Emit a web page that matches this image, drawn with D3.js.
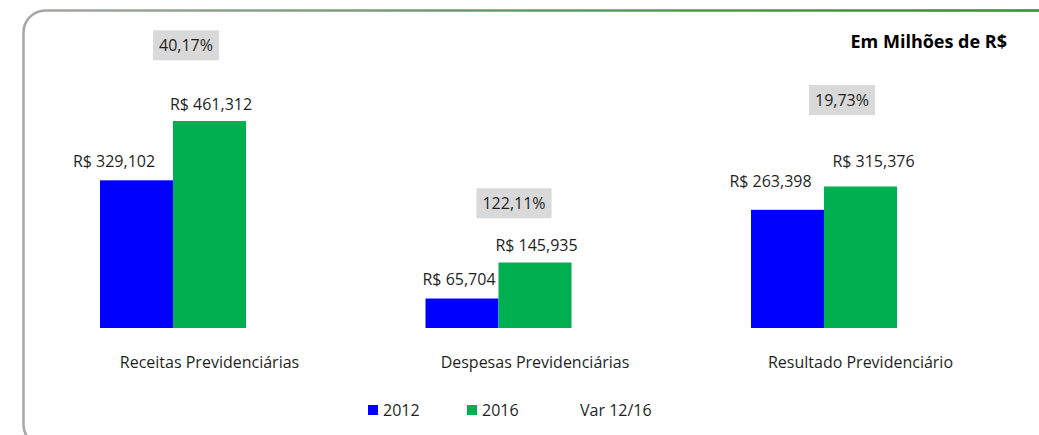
<!DOCTYPE html>
<head>
  <meta charset="utf-8">
  <script src="https://d3js.org/d3.v7.min.js"></script>
  <style>
    body { margin: 0; background: #fff; }
    text {
      font-family: "Open Sans", "Noto Sans", sans-serif;
      fill: #1f1f1f;
      font-size: 16px;
    }
  </style>
</head>

<body>
  <script>
  var categories = ["Receitas Previdenciárias", "Despesas Previdenciárias", "Resultado Previdenciário"];
  var series = ["2012", "2016", "Var 12/16"];
  var values2012 = [329102, 65704, 263398];
  var values2016 = [461312, 145935, 315376];
  var varLabels = ["40,17%", "122,11%", "19,73%"];
  // level (in R$ units) where each Var 12/16 label sits
  var varLevels = [630000, 278000, 508000];

  var colors = {"2012": "#0000ff", "2016": "#00b050"};
  var fmt = function(v) { return "R$ " + d3.format(",")(v); };

  // hand-dragged data labels in the original (px nudges from default spot)
  var nudge = {
    "2012": [[-22.5, 0], [-3, -1], [-17, -10]],
    "2016": [[1.5, 2], [1.5, 1], [13, -6]]
  };

  var width = 1039, height = 435;

  var svg = d3.select("body").append("svg")
      .attr("width", width)
      .attr("height", height);

  var grad = svg.append("defs").append("linearGradient")
      .attr("id", "frame")
      .attr("x1", "0").attr("x2", "1").attr("y1", "0").attr("y2", "0");
  grad.append("stop").attr("offset", "0").attr("stop-color", "#a6a6a6");
  grad.append("stop").attr("offset", "0.4").attr("stop-color", "#6e9a6e");
  grad.append("stop").attr("offset", "1").attr("stop-color", "#2e8b2e");

  svg.append("rect")
      .attr("x", 23.5).attr("y", 10.5)
      .attr("width", 1060).attr("height", 436)
      .attr("rx", 22).attr("ry", 22)
      .attr("fill", "none")
      .attr("stroke", "url(#frame)")
      .attr("stroke-width", 2.5);

  var baseline = 328;
  // each category has three slots: 2012, 2016 and the (invisible) Var 12/16 series
  var x0 = d3.scaleBand().domain(categories).range([46.75, 1023.25]);
  var innerW = 219;
  var x1 = d3.scaleBand().domain(series).range([0, innerW]);
  var y = d3.scaleLinear().domain([0, 700000]).range([baseline, baseline - 700000 * 207 / 461312]);

  var rows = categories.map(function(c, i) {
    return {cat: c, i: i, varLabel: varLabels[i], level: varLevels[i],
      vals: [{year: "2012", v: values2012[i], i: i}, {year: "2016", v: values2016[i], i: i}]};
  });

  var groups = svg.selectAll("g.grp")
      .data(rows)
      .enter().append("g")
      .attr("class", "grp")
      .attr("transform", function(d) { return "translate(" + (x0(d.cat) + (x0.bandwidth() - innerW) / 2) + ",0)"; });

  groups.selectAll("rect.bar")
      .data(function(d) { return d.vals; })
      .enter().append("rect")
      .attr("class", "bar")
      .attr("x", function(d) { return x1(d.year); })
      .attr("width", x1.bandwidth())
      .attr("y", function(d) { return y(d.v); })
      .attr("height", function(d) { return baseline - y(d.v); })
      .attr("fill", function(d) { return colors[d.year]; });

  groups.selectAll("text.val")
      .data(function(d) { return d.vals; })
      .enter().append("text")
      .attr("class", "val")
      .attr("x", function(d) { return x1(d.year) + x1.bandwidth() / 2 + nudge[d.year][d.i][0]; })
      .attr("y", function(d) { return y(d.v) - 13 + nudge[d.year][d.i][1]; })
      .attr("text-anchor", "middle")
      .text(function(d) { return fmt(d.v); });

  // Var 12/16 labels with grey boxes
  groups.each(function(d) {
    var g = d3.select(this);
    var cx = x1("2016") + 13 + d.i * 2.5;
    var t = g.append("text")
        .attr("x", cx)
        .attr("y", y(d.level))
        .attr("dy", "0.35em")
        .attr("text-anchor", "middle")
        .text(d.varLabel);
    var bb = t.node().getBBox();
    g.insert("rect", "text")
        .attr("x", bb.x - 6)
        .attr("y", y(d.level) - 15)
        .attr("width", bb.width + 12)
        .attr("height", 30)
        .attr("fill", "#d9d9d9");
  });

  // category axis labels
  svg.append("g").selectAll("text")
      .data(categories)
      .enter().append("text")
      .attr("x", function(d) { return x0(d) + x0.bandwidth() / 2; })
      .attr("y", 368)
      .attr("text-anchor", "middle")
      .text(function(d) { return d; });

  // title
  svg.append("text")
      .attr("x", 1007)
      .attr("y", 48)
      .attr("text-anchor", "end")
      .style("font-size", "18px")
      .style("font-weight", "bold")
      .style("fill", "#000")
      .text("Em Milhões de R$");

  // legend
  var legendX = [368, 467, 580];
  var legend = svg.append("g").selectAll("g")
      .data(series)
      .enter().append("g")
      .attr("transform", function(d, i) { return "translate(" + legendX[i] + ",405)"; });

  legend.filter(function(d) { return colors[d]; })
      .append("rect")
      .attr("width", 10).attr("height", 10)
      .attr("fill", function(d) { return colors[d]; });

  legend.append("text")
      .attr("x", function(d) { return colors[d] ? 15 : 0; })
      .attr("y", 11)
      .text(function(d) { return d; });
  </script>
</body>
